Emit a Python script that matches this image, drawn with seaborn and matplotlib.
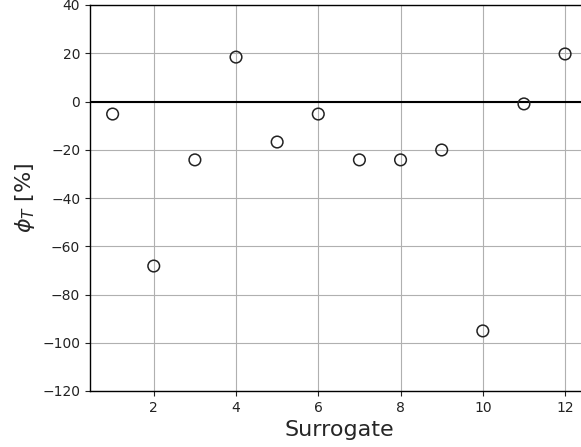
import matplotlib
matplotlib.use("Agg")
import matplotlib.pyplot as plt
import seaborn as sns
import pandas as pd

surrogate = [1, 2, 3, 4, 5, 6, 7, 8, 9, 10, 11, 12]
phi_t = [-5.2, -68.2, -24.2, 18.4, -16.8, -5.2, -24.2, -24.2, -20.1, -95.1, -1.0, 19.7]
df = pd.DataFrame({"Surrogate": surrogate, "phi": phi_t})

sns.set_style("white")
plt.rcParams['font.family'] = ['DejaVu Sans']

fig = plt.figure(figsize=(5.81, 4.47), dpi=100)
ax = fig.add_axes([90/581, 56/447, 497.7/581, 386/447])

ax.grid(True, color="#b0b0b0", linewidth=0.8, zorder=0)
ax.axhline(0, color="black", linewidth=1.5, zorder=1)
sns.scatterplot(data=df, x="Surrogate", y="phi", ax=ax, marker="o", s=70,
                facecolor="none", edgecolor="#222222", linewidth=1.1, zorder=3)

ax.set_xlim(0.45, 12.55)
ax.set_ylim(-120, 40)
ax.set_xticks([2, 4, 6, 8, 10, 12])
ax.set_yticks([-120, -100, -80, -60, -40, -20, 0, 20, 40])
ax.tick_params(axis="both", labelsize=10, length=3.5, width=0.8, direction="out",
               bottom=True, left=True, colors="#222222")
for s in ax.spines.values():
    s.set_color("black")
    s.set_linewidth(1.0)
ax.spines["right"].set_visible(False)
ax.set_xlabel("Surrogate", fontsize=16)
ax.set_ylabel(r"$\phi_T$ [%]", fontsize=16)
ax.set_axisbelow(True)

fig.savefig("out.png", dpi=100)
